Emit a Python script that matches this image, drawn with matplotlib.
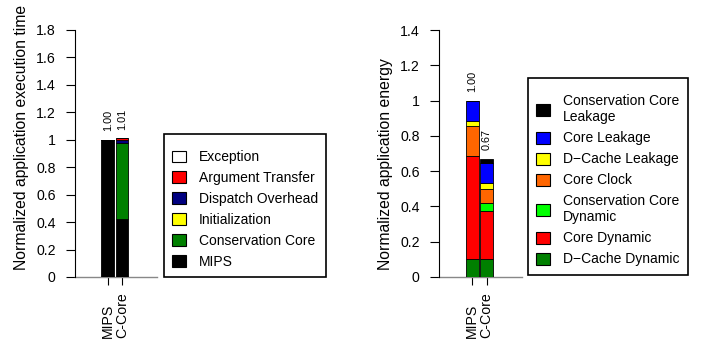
import numpy as np
import matplotlib
matplotlib.use("Agg")
import matplotlib.pyplot as plt
from matplotlib.patches import Patch

plt.rcParams['font.family'] = ['Liberation Sans', 'DejaVu Sans']

# ---------------- data ----------------
categories = ["MIPS", "C-Core"]

# Execution time (stack order bottom -> top)
time_labels = ["MIPS", "Conservation Core", "Initialization",
               "Dispatch Overhead", "Argument Transfer", "Exception"]
time_colors = ["#000000", "#008000", "#FFFF00", "#000080", "#FF0000", "#FFFFFF"]
time_mips = [1.00, 0.00, 0.00, 0.00, 0.00, 0.00]
time_ccore = [0.425, 0.55, 0.00, 0.02, 0.015, 0.00]

# Energy (stack order bottom -> top)
energy_labels = ["D\u2212Cache Dynamic", "Core Dynamic", "Conservation Core\nDynamic",
                 "Core Clock", "D\u2212Cache Leakage", "Core Leakage",
                 "Conservation Core\nLeakage"]
energy_colors = ["#008000", "#FF0000", "#00FF00", "#FF6600", "#FFFF00",
                 "#0000FF", "#000000"]
energy_mips = [0.10, 0.585, 0.00, 0.17, 0.032, 0.113, 0.00]
energy_ccore = [0.10, 0.272, 0.05, 0.075, 0.038, 0.113, 0.022]

time_yticks = [0, 0.2, 0.4, 0.6, 0.8, 1, 1.2, 1.4, 1.6, 1.8]
energy_yticks = [0, 0.2, 0.4, 0.6, 0.8, 1, 1.2, 1.4]

W, H = 702, 341
fig = plt.figure(figsize=(W / 100, H / 100), dpi=100)


def px_axes(left, right, bottom_px, top_px):
    return fig.add_axes([left / W, 1 - bottom_px / H,
                         (right - left) / W, (bottom_px - top_px) / H])


def stacked(ax, series_by_cat, colors, ymax, yticks, ylabel):
    x = np.arange(len(categories))
    data = np.array(series_by_cat).T  # layers x categories
    bottom = np.zeros(len(categories))
    for layer, col in zip(data, colors):
        ax.bar(x, layer, 0.9, bottom=bottom, color=col, edgecolor="black",
               linewidth=0.6, zorder=3)
        bottom = bottom + layer
    for xi, tot in zip(x, bottom):
        ax.annotate(f"{tot:.2f}", (xi, tot), xytext=(0, 6),
                    textcoords="offset points", rotation=90,
                    ha="center", va="bottom", fontsize=7.8)
    ax.axhline(0, color="#888888", linewidth=1.0, zorder=2, clip_on=False)
    ax.set_xlim(-2.3, 3.45)
    ax.set_ylim(0, ymax)
    ax.set_yticks(yticks)
    ax.set_yticklabels([f"{v:g}" for v in yticks])
    ax.set_xticks(x, categories, rotation=90, va="bottom", fontsize=10.2)
    ax.tick_params(axis="x", length=5.8, width=0.8, pad=38)
    ax.tick_params(axis="y", length=6.5, width=0.8, pad=7.5, labelsize=10.2)
    for s in ("top", "right", "bottom"):
        ax.spines[s].set_visible(False)
    ax.spines["left"].set_linewidth(0.8)
    ax.set_ylabel(ylabel, fontsize=11.3, labelpad=5, loc="bottom")
    ax.yaxis.label.set_y(0.028)
    return bottom


ax1 = px_axes(75, 157, 277, 30)
stacked(ax1, [time_mips, time_ccore], time_colors, 1.8, time_yticks,
        "Normalized application execution time")

ax2 = px_axes(439, 522, 277, 30)
stacked(ax2, [energy_mips, energy_ccore], energy_colors, 1.4, energy_yticks,
        "Normalized application energy")

legend_kw = dict(loc="upper left", borderaxespad=0, fontsize=10,
                 handlelength=0.95, handleheight=0.95, handletextpad=0.95,
                 labelspacing=0.5, borderpad=0.6, fancybox=False,
                 framealpha=1, edgecolor="black",
                 title=" ", title_fontsize=1.5)

h1 = [Patch(facecolor=c, edgecolor="black", linewidth=0.8, label=l)
      for l, c in zip(time_labels, time_colors)][::-1]
leg1 = fig.legend(handles=h1, bbox_to_anchor=(164 / W, 1 - 134 / H), **legend_kw)
leg1.get_frame().set_linewidth(1.2)

h2 = [Patch(facecolor=c, edgecolor="black", linewidth=0.8, label=l)
      for l, c in zip(energy_labels, energy_colors)][::-1]
leg2 = fig.legend(handles=h2, bbox_to_anchor=(528 / W, 1 - 78 / H), **legend_kw)
leg2.get_frame().set_linewidth(1.2)

fig.savefig("out.png", dpi=100)
